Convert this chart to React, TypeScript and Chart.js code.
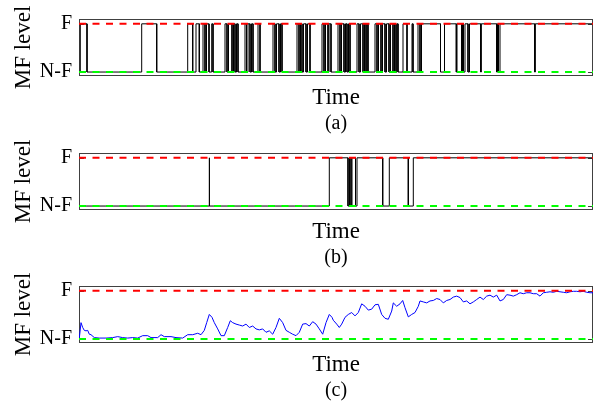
import React, { useEffect, useRef } from 'react';
import { Chart, registerables } from 'chart.js';

Chart.register(...registerables);

// ---------- data ----------
const T_MAX = 514; // time span of each record (arbitrary units)
const levelValues = [0, 1];
const levelLabels = ['N-F', 'F'];
const panelLabels = ['(a)', '(b)', '(c)'];
const xAxisTitle = 'Time';
const yAxisTitle = 'MF level';

// (a) periods during which the level is "F" [start, end]
const aHighIntervals: [number, number][] = [
  [1.3, 8], [62.7, 77.7], [108.7, 113.7], [117, 120.3], [124, 126], [127.5, 130],
  [132.7, 134], [146, 148], [149.5, 153], [154.5, 156], [157.5, 159], [166, 167.5],
  [169, 171], [172.5, 174], [179, 181], [194, 196], [197.5, 200], [201.5, 203],
  [218, 220], [221.5, 223], [224.5, 227], [228.5, 231], [243, 245], [246.5, 249],
  [250, 252], [259, 261], [262.5, 265], [266.5, 268], [269.5, 271], [278, 280],
  [281.5, 284], [285.5, 287], [288, 289], [296, 298], [299.5, 302], [303.5, 306],
  [307.5, 310], [311.5, 314], [315.5, 317], [318, 319], [324, 328], [333, 334],
  [339, 341], [342.5, 361.5], [365.5, 377.3], [378, 382.7], [383.5, 384.5],
  [386, 389], [390.5, 401.7], [402.3, 417.7], [418.5, 419.5], [421, 455.7],
  [456.3, 514],
];

// (b) periods during which the level is "F"
const bHighIntervals: [number, number][] = [
  [130, 130.6], [250.3, 269], [270.5, 272], [273, 276.5], [278, 303.7],
  [310.3, 329.3], [334.3, 514],
];

// (c) averaged MF level [time, value]
const cSamples: [number, number][] = [
  [0.3, 0.02], [2, 0.34], [3.7, 0.24], [5.3, 0.18], [7, 0.17], [8.7, 0.18], [10.3, 0.10],
  [12, 0.09], [15.3, 0.03], [20.3, 0.02], [27, 0.02], [33.7, 0.03], [38.7, 0.05],
  [43.7, 0.03], [48.7, 0.02], [53.7, 0.03], [58.7, 0.02], [63.7, 0.07], [68.7, 0.07],
  [72, 0.03], [78.7, 0.03], [82, 0.09], [85.3, 0.05], [92, 0.05], [97, 0.03],
  [103.7, 0.02], [108.7, 0.09], [113.7, 0.09], [118.7, 0.12], [122, 0.09], [125.3, 0.18],
  [127.7, 0.34], [130.3, 0.51], [133, 0.45], [135.3, 0.34], [138.7, 0.21], [142, 0.07],
  [145.3, 0.07], [148.7, 0.24], [151.3, 0.38], [153.7, 0.34], [157, 0.31], [160.3, 0.29],
  [163.7, 0.27], [167, 0.31], [170.3, 0.24], [173.7, 0.27], [177, 0.21], [180.3, 0.19],
  [183.7, 0.21], [187, 0.14], [190.3, 0.17], [193.7, 0.10], [197, 0.24], [200.3, 0.43],
  [203.7, 0.34], [207, 0.18], [210.3, 0.14], [213.7, 0.10], [217, 0.07], [220.3, 0.14],
  [223.7, 0.31], [227, 0.32], [230.3, 0.27], [233.7, 0.36], [237, 0.31], [240.3, 0.21],
  [243.7, 0.10], [247, 0.34], [250.3, 0.51], [253, 0.45], [254.3, 0.39], [257.7, 0.31],
  [260.3, 0.24], [262.7, 0.31], [266, 0.45], [269.3, 0.51], [272.7, 0.55], [276, 0.48],
  [279.3, 0.55], [282.7, 0.73], [286, 0.68], [289.3, 0.60], [292.7, 0.62], [296, 0.71],
  [299.3, 0.72], [302.7, 0.51], [306, 0.43], [309.3, 0.41], [312.7, 0.58], [314.3, 0.75],
  [317.7, 0.68], [321, 0.73], [323.7, 0.80], [326, 0.65], [329.3, 0.46], [332.7, 0.51],
  [336, 0.55], [339.3, 0.68], [341, 0.79], [344.3, 0.77], [347.7, 0.75], [351, 0.79],
  [354.3, 0.80], [357.7, 0.84], [361, 0.82], [364.3, 0.75], [367.7, 0.80], [371, 0.82],
  [374.3, 0.87], [377.7, 0.89], [381, 0.86], [384.3, 0.77], [387.7, 0.79], [391, 0.73],
  [394.3, 0.77], [397.7, 0.82], [401, 0.87], [404.3, 0.82], [407.7, 0.89], [411, 0.91],
  [414.3, 0.87], [417.7, 0.91], [421, 0.79], [424.3, 0.82], [427.7, 0.92], [431, 0.91],
  [434.3, 0.89], [437.7, 0.92], [441, 0.96], [444.3, 0.94], [447.7, 0.96], [451, 0.96],
  [454.3, 0.94], [457.7, 0.94], [461, 0.89], [464.3, 0.96], [467.7, 0.97], [471, 0.98],
  [474.3, 0.97], [477.7, 0.99], [481, 0.98], [484.3, 0.97], [487.7, 0.96], [491, 0.98],
  [494.3, 0.99], [497.7, 0.99], [501, 0.98], [504.3, 0.99], [507.7, 0.97], [511, 0.96],
  [514, 0.96],
];

// ---------- helpers ----------
const FONT = "'Liberation Serif', 'Times New Roman', serif";
const LOW = levelValues[0];
const HIGH = levelValues[1];

function buildSteps(intervals: [number, number][]) {
  const pts: { x: number; y: number }[] = [{ x: 0, y: LOW }];
  for (const [s, e] of intervals) {
    pts.push({ x: s, y: LOW }, { x: s, y: HIGH });
    if (e >= T_MAX) {
      pts.push({ x: T_MAX, y: HIGH });
      return pts;
    }
    pts.push({ x: e, y: HIGH }, { x: e, y: LOW });
  }
  pts.push({ x: T_MAX, y: LOW });
  return pts;
}

function refLines() {
  return [
    {
      data: [{ x: 0, y: HIGH }, { x: T_MAX, y: HIGH }],
      borderColor: '#ff0000',
      borderWidth: 2,
      borderDash: [7, 6.5],
      pointRadius: 0,
      order: 0,
    },
    {
      data: [{ x: 0, y: LOW }, { x: T_MAX, y: LOW }],
      borderColor: '#00ff00',
      borderWidth: 2,
      borderDash: [7, 6.5],
      pointRadius: 0,
      order: 0,
    },
  ];
}

const boxPlugin = {
  id: 'boxFrame',
  beforeDatasetsDraw(chart: any) {
    const { ctx, chartArea, scales } = chart;
    const { left, top, right, bottom } = chartArea;
    ctx.save();
    ctx.strokeStyle = '#404040';
    ctx.lineWidth = 1;
    ctx.strokeRect(Math.round(left) + 0.5, Math.round(top) + 0.5, Math.round(right - left) - 1, Math.round(bottom - top) - 1);
    ctx.beginPath();
    for (const v of levelValues) {
      const py = Math.round(scales.y.getPixelForValue(v)) + 0.5;
      ctx.moveTo(left, py);
      ctx.lineTo(left + 5, py);
      ctx.moveTo(right, py);
      ctx.lineTo(right - 5, py);
    }
    ctx.stroke();
    ctx.restore();
  },
};

function makeConfig(datasets: any[], label: string): any {
  return {
    type: 'line',
    data: { datasets },
    plugins: [boxPlugin],
    options: {
      animation: false,
      responsive: false,
      devicePixelRatio: 1,
      layout: { padding: { top: 18, right: 4, bottom: 0, left: 0 } },
      plugins: {
        legend: { display: false },
        tooltip: { enabled: false },
        title: {
          display: true,
          text: label,
          position: 'bottom',
          fullSize: false,
          color: '#000',
          font: { family: FONT, size: 20, weight: 'normal' },
          padding: { top: 0.5, bottom: 0 },
        },
      },
      elements: { line: { tension: 0 } },
      scales: {
        x: {
          type: 'linear',
          min: 0,
          max: T_MAX,
          ticks: { display: false },
          grid: { display: false, drawTicks: false },
          border: { display: false },
          title: {
            display: true,
            text: xAxisTitle,
            color: '#000',
            font: { family: FONT, size: 23 },
            padding: { top: 8, bottom: 0 },
          },
        },
        y: {
          type: 'linear',
          min: -0.08,
          max: 1.1,
          afterBuildTicks: (s: any) => {
            s.ticks = levelValues.map((v) => ({ value: v }));
          },
          afterFit: (s: any) => {
            s.width = 79;
          },
          ticks: {
            callback: (_v: any, i: number) => levelLabels[i],
            color: '#000',
            font: { family: FONT, size: 20 },
            padding: 7,
            autoSkip: false,
            maxRotation: 0,
          },
          grid: { display: false, drawTicks: false },
          border: { display: false },
          title: {
            display: true,
            text: yAxisTitle,
            color: '#000',
            font: { family: FONT, size: 23 },
            padding: { top: 10, bottom: 0 },
          },
        },
      },
    },
  };
}

function Panel({ datasets, label, top }: { datasets: any[]; label: string; top: number }) {
  const ref = useRef<HTMLCanvasElement>(null);
  useEffect(() => {
    if (!ref.current) return;
    const chart = new Chart(ref.current, makeConfig(datasets, label));
    return () => chart.destroy();
  }, []);
  return (
    <canvas
      ref={ref}
      width={597}
      height={136}
      style={{ position: 'absolute', left: 0, top, width: 597, height: 136 }}
    />
  );
}

export default function App() {
  const dsA = [
    ...refLines(),
    { data: buildSteps(aHighIntervals), borderColor: '#000', borderWidth: 1, pointRadius: 0, order: 1 },
  ];
  const dsB = [
    ...refLines(),
    { data: buildSteps(bHighIntervals), borderColor: '#000', borderWidth: 1, pointRadius: 0, order: 1 },
  ];
  const dsC = [
    ...refLines(),
    {
      data: cSamples.map(([x, y]) => ({ x, y })),
      borderColor: '#0000ff',
      borderWidth: 1,
      pointRadius: 0,
      order: 1,
    },
  ];
  return (
    <div style={{ position: 'absolute', left: 0, top: 0, width: 597, height: 403, background: '#fff' }}>
      <Panel datasets={dsA} label={panelLabels[0]} top={0} />
      <Panel datasets={dsB} label={panelLabels[1]} top={134} />
      <Panel datasets={dsC} label={panelLabels[2]} top={267} />
    </div>
  );
}
